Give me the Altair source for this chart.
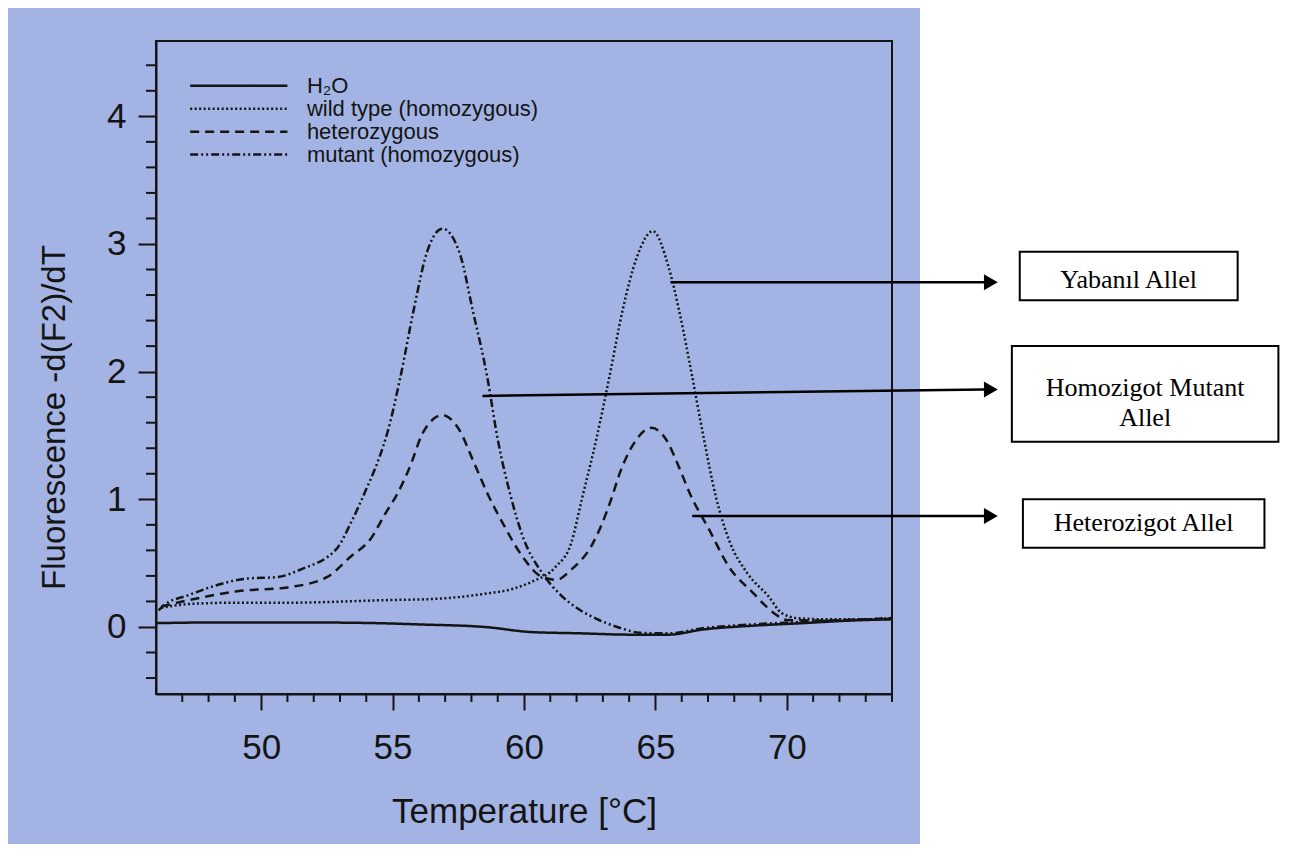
import altair as alt
import pandas as pd

# ---------------- data ----------------
SERIES = ["H₂O", "wild type (homozygous)", "heterozygous", "mutant (homozygous)"]

h2o_t = [46.0, 48.0, 50.0, 52.0, 54.4, 56.0, 58.5, 60.3, 62.2, 64.0, 65.5, 66.8, 68.7, 70.6, 72.4, 74.0]
h2o_v = [0.03, 0.035, 0.035, 0.035, 0.03, 0.02, 0.0, -0.04, -0.05, -0.06, -0.06, -0.02, 0.01, 0.03, 0.05, 0.06]

wild_t = [46.2, 47.25, 49.0, 51.0, 54.7, 56.6, 58.5, 59.6, 60.3, 61.2, 61.8, 62.2, 62.75, 63.25, 63.75,
          64.3, 64.9, 65.5, 65.9, 66.4, 66.8, 67.3, 67.8, 68.5, 69.3, 69.8, 70.4, 71.5, 73.0, 74.0]
wild_v = [0.15, 0.18, 0.19, 0.19, 0.21, 0.22, 0.26, 0.30, 0.355, 0.47, 0.66, 1.00, 1.47, 1.96, 2.48,
          2.90, 3.10, 2.82, 2.48, 1.96, 1.52, 1.02, 0.68, 0.42, 0.24, 0.11, 0.07, 0.06, 0.06, 0.07]

het_t = [46.2, 47.25, 49.1, 51.0, 52.5, 53.4, 54.2, 54.7, 55.2, 55.65, 56.15, 56.9, 57.55, 58.05, 58.6,
         59.2, 59.95, 60.7, 61.25, 61.8, 62.55, 63.35, 63.6, 64.1, 64.85, 65.4, 65.9, 66.3, 67.05, 67.8,
         68.7, 69.5, 70.0, 71.5, 73.0, 74.0]
het_v = [0.16, 0.21, 0.28, 0.31, 0.39, 0.55, 0.70, 0.88, 1.05, 1.25, 1.52, 1.66, 1.54, 1.31, 1.05,
         0.81, 0.55, 0.39, 0.37, 0.45, 0.63, 1.02, 1.18, 1.41, 1.56, 1.47, 1.25, 1.05, 0.76, 0.47,
         0.27, 0.11, 0.055, 0.05, 0.06, 0.07]

mut_t = [46.1, 46.3, 47.25, 48.2, 49.5, 50.6, 51.5, 52.9, 53.4, 54.0, 54.5, 54.8, 55.3, 55.8, 56.3,
         56.9, 57.55, 58.05, 58.6, 59.0, 59.5, 59.95, 60.7, 61.4, 62.0, 62.8, 63.7, 64.4, 65.5, 66.8, 68.7,
         70.6, 72.4, 74.0]
mut_v = [0.13, 0.17, 0.25, 0.32, 0.38, 0.39, 0.45, 0.62, 0.81, 1.08, 1.33, 1.52, 1.96, 2.48, 2.93,
         3.12, 2.93, 2.48, 1.96, 1.47, 1.02, 0.71, 0.42, 0.25, 0.15, 0.06, -0.01, -0.045, -0.05, -0.01, 0.02,
         0.04, 0.055, 0.065]

x_major = [50, 55, 60, 65, 70]
y_major = [0, 1, 2, 3, 4]
x_minor = [t for t in range(47, 75) if t % 5 != 0]
y_minor = [round(-0.4 + 0.2 * i, 1) for i in range(25) if abs(round(-0.4 + 0.2 * i, 1) % 1) > 0.01]

# legend rows (data coordinates inside the plot)
legend_v = [4.24, 4.06, 3.88, 3.70]
legend_t0, legend_t1, legend_text_t = 47.3, 51.0, 51.74

# annotations (arrows + boxes to the right of the plot)
ann_text = ["Yabanıl Allel", "Homozigot Mutant\nAllel", "Heterozigot Allel"]
ann_t0 = [65.57, 58.42, 66.4]
ann_v0 = [2.70, 1.81, 0.87]
ann_v1 = [2.70, 1.86, 0.87]
ann_line_end = 77.5
ann_head_t = 77.76
box_t0 = [78.86, 78.56, 78.98]
box_t1 = [87.15, 88.70, 88.17]
box_v0 = [2.94, 2.20, 1.00]
box_v1 = [2.56, 1.45, 0.62]
box_text_v = [2.72, 1.873, 0.815]

# ---------------- tables ----------------
rows = []
for name, ts, vs in zip(SERIES, [h2o_t, wild_t, het_t, mut_t], [h2o_v, wild_v, het_v, mut_v]):
    for i, (t, v) in enumerate(zip(ts, vs)):
        rows.append({"series": name, "T": t, "v": v, "order": i})
curves = pd.DataFrame(rows)

legend_df = pd.DataFrame({"series": SERIES, "ly": legend_v,
                          "lx0": [legend_t0] * 4, "lx1": [legend_t1] * 4, "tx": [legend_text_t] * 4})
ann_df = pd.DataFrame({"t0": ann_t0, "v0": ann_v0, "t1": [ann_line_end] * 3, "v1": ann_v1,
                       "th": [ann_head_t] * 3})
box_df = pd.DataFrame({"label": ann_text, "x0": box_t0, "x1": box_t1, "y0": box_v0, "y1": box_v1,
                       "ty": box_text_v})
box_df["tx"] = (box_df["x0"] + box_df["x1"]) / 2
xminor_df = pd.DataFrame({"T": x_minor})
yminor_df = pd.DataFrame({"v": y_minor})
dummy = pd.DataFrame({"a": [0]})

# ---------------- scales / styles ----------------
INK = "#141414"
FONT = "Liberation Sans"
xs = alt.Scale(domain=[46, 74], nice=False, zero=False)
ys = alt.Scale(domain=[-0.525, 4.59], nice=False, zero=False)
dash = alt.Scale(domain=SERIES, range=[[1, 0], [2, 2.5], [9, 6], [8, 3, 2, 3, 2, 3]])

x_axis = alt.Axis(values=x_major, tickSize=16, tickWidth=2, tickColor=INK, domainColor=INK,
                  domainWidth=2, labelFont=FONT, labelFontSize=35, labelColor=INK, labelPadding=20,
                  grid=False, title="Temperature [°C]", titleFont=FONT, titleFontSize=35,
                  titleFontWeight="normal", titleColor=INK, titleX=368, titleY=117,
                  titleBaseline="middle", titleAlign="center", zindex=1)
y_axis = alt.Axis(values=y_major, tickSize=18, tickWidth=2, tickColor=INK, domainColor=INK,
                  domainWidth=2, labelFont=FONT, labelFontSize=35, labelColor=INK, labelPadding=12,
                  grid=False, title="Fluorescence -d(F2)/dT", titleFont=FONT, titleFontSize=33,
                  titleFontWeight="normal", titleColor=INK, titleAngle=270, titleX=-102, titleY=376,
                  titleBaseline="middle", titleAlign="center", zindex=1)


def X(field):
    return alt.X(field, scale=xs, axis=x_axis)


def Y(field):
    return alt.Y(field, scale=ys, axis=y_axis)


white = alt.Chart(dummy).mark_rect(color="white").encode(
    x=alt.value(764), x2=alt.value(1300), y=alt.value(-60), y2=alt.value(900))

lines = alt.Chart(curves).mark_line(color=INK, strokeWidth=2.5, interpolate="monotone").encode(
    x=X("T:Q"),
    y=Y("v:Q"),
    strokeDash=alt.StrokeDash("series:N", scale=dash, legend=None),
    detail="series:N",
    order="order:Q",
)

xminor = alt.Chart(xminor_df).mark_rule(color=INK, strokeWidth=2).encode(
    x=X("T:Q"), y=alt.value(653), y2=alt.value(661))
yminor = alt.Chart(yminor_df).mark_rule(color=INK, strokeWidth=2).encode(
    y=Y("v:Q"), x=alt.value(-10), x2=alt.value(0))

leg_lines = alt.Chart(legend_df).mark_rule(color=INK, strokeWidth=2.5).encode(
    x=X("lx0:Q"), x2="lx1:Q", y=Y("ly:Q"),
    strokeDash=alt.StrokeDash("series:N", scale=dash, legend=None))
leg_text = alt.Chart(legend_df).mark_text(align="left", baseline="middle", font=FONT, fontSize=22,
                                          color=INK).encode(
    x=X("tx:Q"), y=Y("ly:Q"), text="series:N")

arrows = alt.Chart(ann_df).mark_rule(color="black", strokeWidth=2.5).encode(
    x=X("t0:Q"), y=Y("v0:Q"), x2="t1:Q", y2="v1:Q")
heads = alt.Chart(ann_df).mark_point(shape="triangle-right", filled=True, size=256, color="black",
                                     opacity=1).encode(
    x=X("th:Q"), y=Y("v1:Q"))

boxes = alt.Chart(box_df).mark_rect(fill="white", stroke="black", strokeWidth=2).encode(
    x=X("x0:Q"), x2="x1:Q", y=Y("y0:Q"), y2="y1:Q")
box_text = alt.Chart(box_df).mark_text(align="center", baseline="middle", font="Liberation Serif",
                                       fontSize=26, color="black", lineBreak="\n",
                                       lineHeight=30).encode(
    x=X("tx:Q"), y=Y("ty:Q"), text="label:N")

chart = alt.layer(lines, white, xminor, yminor, leg_lines, leg_text, arrows, heads, boxes,
                  box_text).properties(
    width=736, height=653,
    padding={"left": 148, "top": 33, "right": 393, "bottom": 150},
    autosize=alt.AutoSizeParams(type="none"),
).configure(background="#a3b4e4").configure_view(stroke=INK, strokeWidth=2)

chart.save("out.html", embed_options={"renderer": "svg", "actions": False})
